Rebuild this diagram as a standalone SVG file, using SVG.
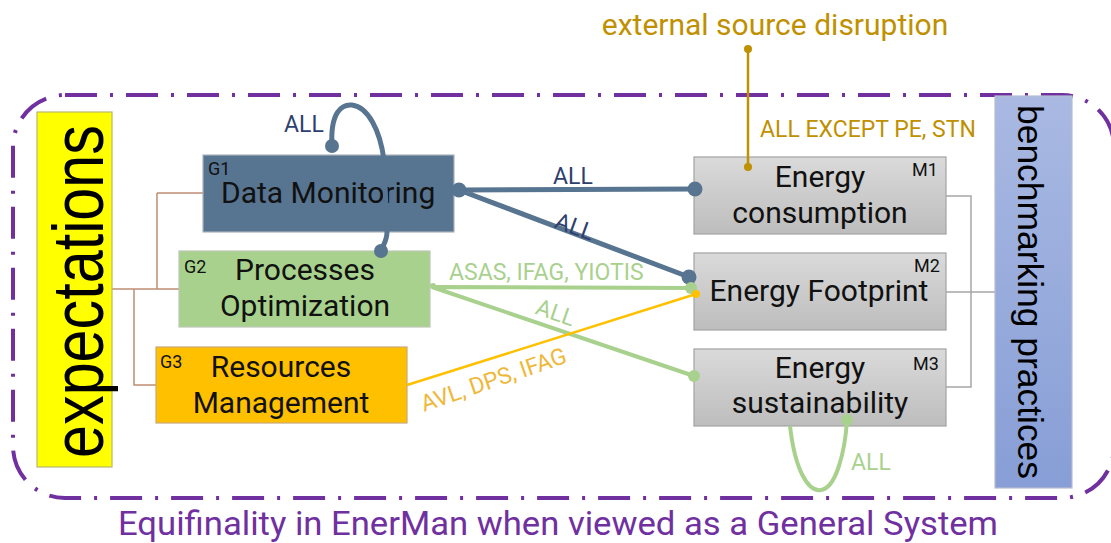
<svg xmlns="http://www.w3.org/2000/svg" width="1111" height="543" viewBox="0 0 1111 543">
<defs>
<linearGradient id="gM" x1="0" y1="0" x2="0" y2="1"><stop offset="0" stop-color="#dadada"/><stop offset="1" stop-color="#bdbdbd"/></linearGradient>
<linearGradient id="gB" x1="0" y1="0" x2="0" y2="1"><stop offset="0" stop-color="#a9b9e2"/><stop offset="1" stop-color="#879ed6"/></linearGradient>
<style>
.t{font-family:Roboto,"Liberation Sans",sans-serif;fill:#111}
.big{font-size:30px}
.tag{font-size:18px}
.lbl{font-family:Roboto,"Liberation Sans",sans-serif;font-size:23px}
.box{stroke-width:1.2}
.blue{stroke:#577490;fill:none;stroke-width:5}
.green{stroke:#a9d18e;fill:none;stroke-width:4}
.brown{stroke:#bf8f74;fill:none;stroke-width:1.5}
.gray{stroke:#a6a6a6;fill:none;stroke-width:1.5}
</style>
</defs>
<rect width="1111" height="543" fill="#fff"/>
<!-- system boundary -->
<rect x="13" y="95" width="1101" height="403" rx="52" ry="52" fill="none" stroke="#7030a0" stroke-width="4" stroke-dasharray="32 13 3 13"/>
<text x="118" y="535" textLength="880" lengthAdjust="spacingAndGlyphs" style="font-family:Roboto,'Liberation Sans',sans-serif;font-size:33px;fill:#7030a0">Equifinality in EnerMan when viewed as a General System</text>
<!-- tree lines -->
<g id="links">
<path class="brown" d="M112,289 H179 M157,193 H203 M157,193 V289 M134,289 V385 H156"/>
<path class="gray" d="M946,196 H971 V387 H946 M946,292 H995"/>
</g>
<!-- nodes -->
<g id="expectations">
<rect x="37" y="112" width="75" height="355" fill="#ffff00" stroke="#b8b870" stroke-width="1.2"/>
<text transform="translate(103,458) rotate(-90)" textLength="333" lengthAdjust="spacingAndGlyphs" style="font-family:'Liberation Sans',Arial,sans-serif;font-size:72px;fill:#000">expectations</text>
</g>
<g id="benchmarking">
<rect x="995" y="96" width="77" height="392" fill="url(#gB)" stroke="#b6bdd2" stroke-width="1.2"/>
<text transform="translate(1018,105) rotate(90)" textLength="374" lengthAdjust="spacingAndGlyphs" style="font-family:'Liberation Sans',Arial,sans-serif;font-size:35px;fill:#000">benchmarking practices</text>
</g>
<g id="G1">
<rect x="203" y="155" width="251" height="77" fill="#577490" stroke="#a9b3bd" class="box"/>
<text x="208" y="175" class="t tag">G1</text>
<text x="221" y="203" class="t big">Data Monitoring</text>
</g>
<g id="G2">
<rect x="179" y="251" width="251" height="76" fill="#a9d18e" stroke="#bcc7b4" class="box"/>
<text x="184" y="273" class="t tag">G2</text>
<text x="305" y="280" class="t big" text-anchor="middle">Processes</text>
<text x="305" y="316" class="t big" text-anchor="middle">Optimization</text>
</g>
<g id="G3">
<rect x="156" y="347" width="251" height="76" fill="#ffc000" stroke="#c9a877" class="box"/>
<text x="160" y="368" class="t tag">G3</text>
<text x="281" y="377" class="t big" text-anchor="middle">Resources</text>
<text x="281" y="413" class="t big" text-anchor="middle">Management</text>
</g>
<g id="M1">
<rect x="694" y="157" width="252" height="77" fill="url(#gM)" stroke="#a3a3a3" class="box"/>
<text x="912" y="176" class="t tag">M1</text>
<text x="820" y="187" class="t big" text-anchor="middle">Energy</text>
<text x="820" y="223" class="t big" text-anchor="middle">consumption</text>
</g>
<g id="M2">
<rect x="694" y="253" width="252" height="77" fill="url(#gM)" stroke="#a3a3a3" class="box"/>
<text x="914" y="272" class="t tag">M2</text>
<text x="819" y="301" class="t big" text-anchor="middle">Energy Footprint</text>
</g>
<g id="M3">
<rect x="694" y="349" width="252" height="77" fill="url(#gM)" stroke="#a3a3a3" class="box"/>
<text x="913" y="370" class="t tag">M3</text>
<text x="820" y="378" class="t big" text-anchor="middle">Energy</text>
<text x="820" y="413" class="t big" text-anchor="middle">sustainability</text>
</g>
<g id="disruption">
<text x="775" y="35" text-anchor="middle" style="font-family:Roboto,'Liberation Sans',sans-serif;font-size:30px;fill:#bf9000">external source disruption</text>
</g>
<!-- connectors -->
<g id="connectors">
<path class="blue" d="M332,146 C330,112 342,104 352,105 C368,107 380,130 384,160 L387,232 C387,241 383,245 381,251"/>
<circle cx="332" cy="146" r="7" fill="#577490"/>
<circle cx="381" cy="251" r="7" fill="#577490"/>
<text x="284" y="132" class="lbl" fill="#2e3f6e">ALL</text>
<path class="blue" d="M459,190 L695,189 M459,190 L689,277"/>
<circle cx="459" cy="190" r="7.5" fill="#577490"/>
<circle cx="695" cy="189" r="7.5" fill="#577490"/>
<circle cx="689" cy="277" r="7.5" fill="#577490"/>
<text x="553" y="184" class="lbl" fill="#2e3f6e">ALL</text>
<text x="572" y="234" class="lbl" fill="#2e3f6e" text-anchor="middle" transform="rotate(20 572 234)">ALL</text>
<path class="green" d="M432,287 L691,288 M432,287 L694,376"/>
<circle cx="433" cy="286" r="3" fill="#a9d18e"/>
<circle cx="691" cy="288" r="6" fill="#a9d18e"/>
<circle cx="694" cy="376" r="6" fill="#a9d18e"/>
<text x="449" y="280" class="lbl" fill="#a9d18e">ASAS, IFAG, YIOTIS</text>
<text x="553" y="320" class="lbl" fill="#a9d18e" text-anchor="middle" transform="rotate(19 553 320)">ALL</text>
<path d="M407,385 L696,294" stroke="#ffc000" stroke-width="2.5" fill="none"/>
<circle cx="696" cy="294" r="4" fill="#ffc000"/>
<text x="496" y="387" class="lbl" fill="#eeb83a" text-anchor="middle" transform="rotate(-19 496 387)">AVL, DPS, IFAG</text>
<path class="green" d="M790,426 C795,470 808,492 821,490 C836,488 845,452 847,420"/>
<circle cx="847" cy="420" r="6" fill="#a9d18e"/>
<text x="851" y="470" class="lbl" fill="#a9d18e">ALL</text>
<path d="M748,49 V167" stroke="#bf9000" stroke-width="2.5" fill="none"/>
<circle cx="748" cy="49" r="4" fill="#bf9000"/>
<circle cx="748" cy="167" r="4" fill="#bf9000"/>
<text x="760" y="137" class="lbl" fill="#bf9000">ALL EXCEPT PE, STN</text>
</g>
</svg>
